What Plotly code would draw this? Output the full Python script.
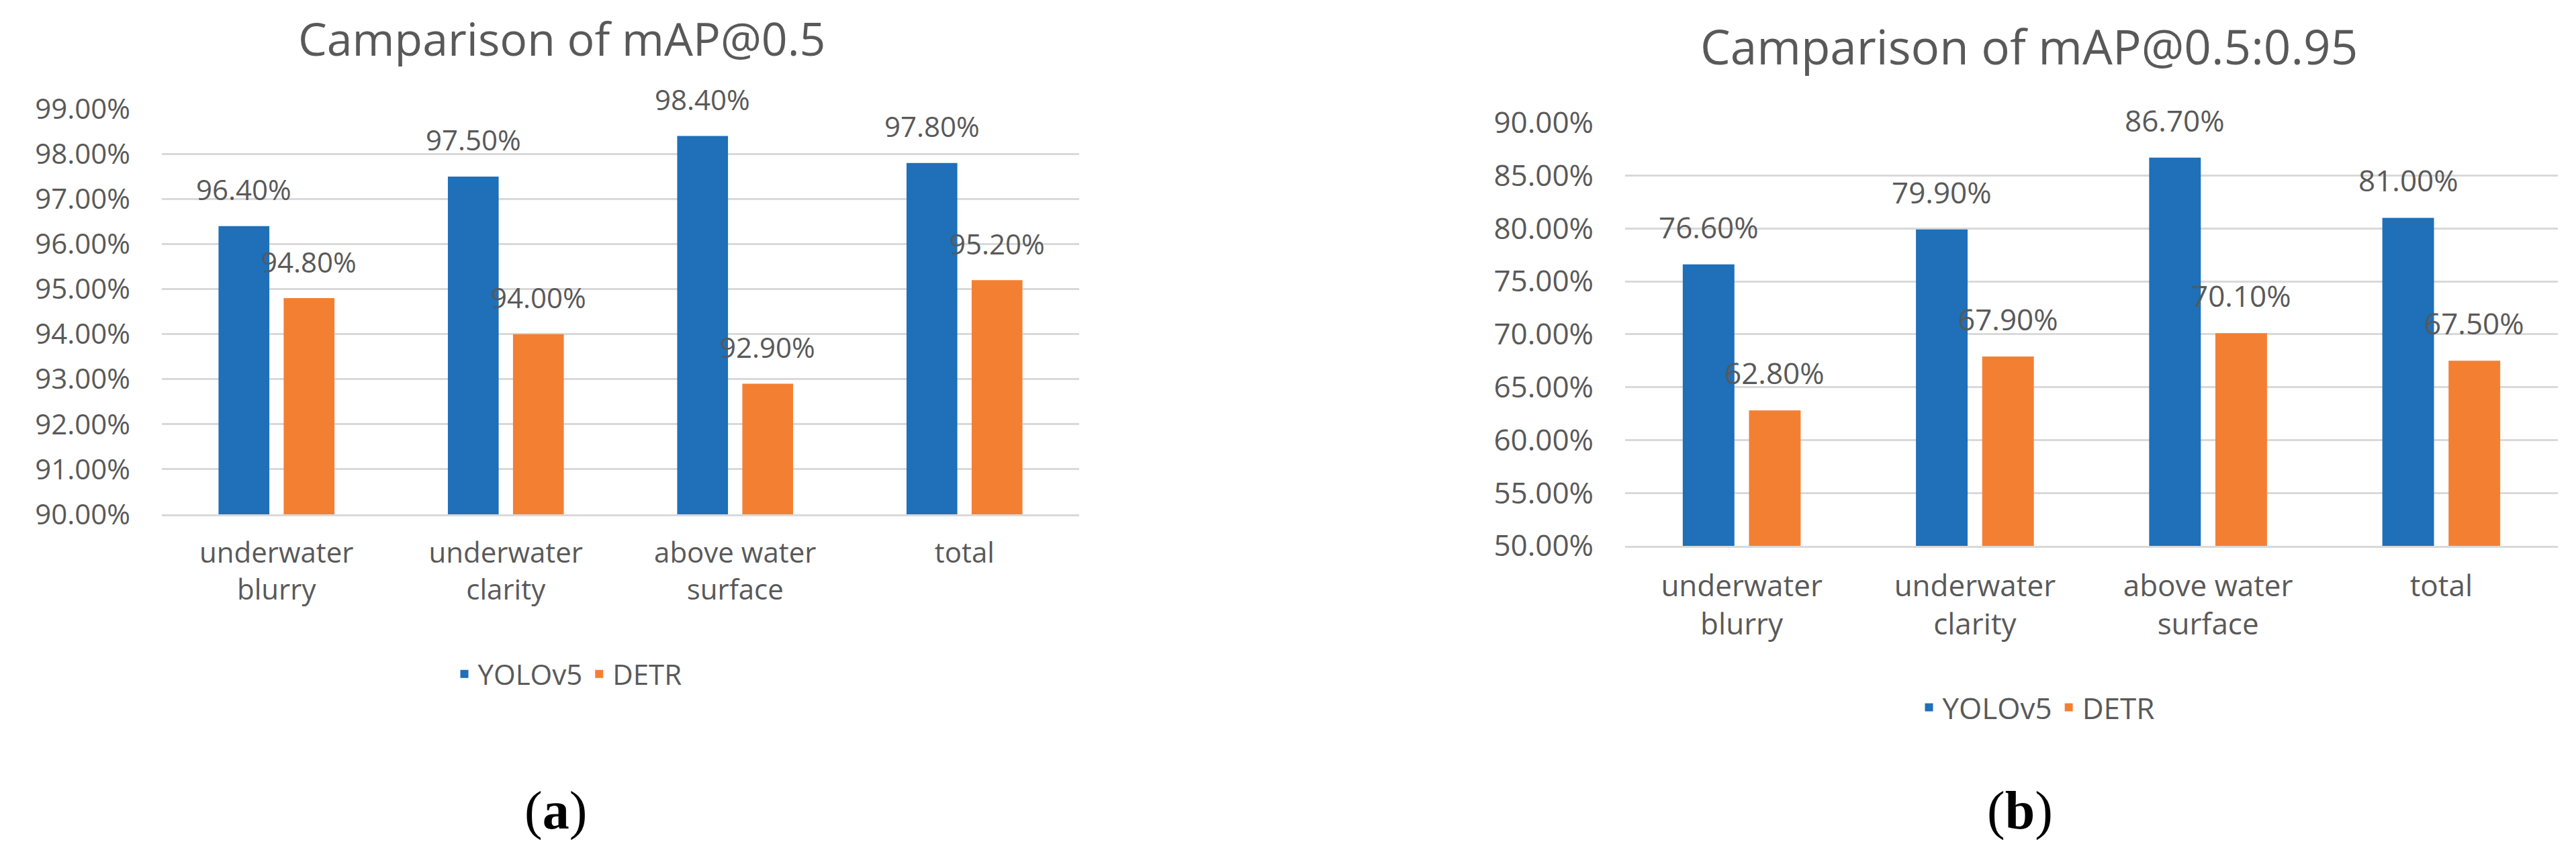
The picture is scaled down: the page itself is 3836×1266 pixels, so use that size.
import plotly.graph_objects as go

# ---------------- data ----------------
categories = ["underwater blurry", "underwater clarity", "above water surface", "total"]
tick_labels = ["underwater<br>blurry", "underwater<br>clarity", "above water<br>surface", "total"]
series_names = ["YOLOv5", "DETR"]

map50_yolov5 = [0.964, 0.975, 0.984, 0.978]
map50_detr = [0.948, 0.940, 0.929, 0.952]

map5095_yolov5 = [0.766, 0.799, 0.867, 0.810]
map5095_detr = [0.628, 0.679, 0.701, 0.675]

titles = ["Camparison of mAP@0.5", "Camparison of mAP@0.5:0.95"]
caption_letters = ["a", "b"]

# ---------------- style ----------------
W, H = 3836, 1266
COLORS = ["#1F6FB9", "#F37F33"]
TXT = "#595959"
GRID = "#D9D9D9"
FONT = "Open Sans"
BARGAP = 0.432
BARGROUPGAP = 0.22


def px_x(v):
    return v / W


def px_y(v):
    return 1 - v / H


panels = [
    dict(series=[map50_yolov5, map50_detr], xa="x", ya="y", legend="legend",
         xdom=(233, 1599), ydom=(758, 154), rng=[0.90, 0.99005], dtick=0.01,
         fs=42, title_fs=68, title_xy=(829, 49), label_shift=55,
         legend_xy=(838, 996), cap_xy=(819, 1199)),
    dict(series=[map5095_yolov5, map5095_detr], xa="x2", ya="y2", legend="legend2",
         xdom=(2412, 3801), ydom=(805, 174.5), rng=[0.50, 0.9001], dtick=0.05,
         fs=44, title_fs=71, title_xy=(3013, 60), label_shift=56,
         legend_xy=(3025, 1046), cap_xy=(3000, 1199)),
]

fig = go.Figure()
annotations = []
layout_axes = {}

for pi, p in enumerate(panels):
    for si, vals in enumerate(p["series"]):
        fig.add_trace(go.Bar(
            x=categories, y=vals, name=series_names[si],
            marker=dict(color=COLORS[si], line=dict(width=0)),
            xaxis=p["xa"], yaxis=p["ya"], legend=p["legend"],
            hovertemplate="%{x}: %{y:.2%}<extra>" + series_names[si] + "</extra>",
        ))
        # data labels, placed at each bar's own position
        off = (1 - BARGAP) / 4 * (1 if si == 1 else -1)
        for ci, v in enumerate(vals):
            annotations.append(dict(
                x=ci + off, y=v, xref=p["xa"], yref=p["ya"],
                text=f"{v:.2%}", showarrow=False,
                xanchor="center", yanchor="middle", yshift=p["label_shift"],
                font=dict(family=FONT, size=p["fs"], color=TXT),
            ))

    # title
    annotations.append(dict(
        x=px_x(p["title_xy"][0]), y=px_y(p["title_xy"][1]), xref="paper", yref="paper",
        text=titles[pi], showarrow=False, xanchor="center", yanchor="middle",
        font=dict(family=FONT, size=p["title_fs"], color=TXT),
    ))
    # caption
    annotations.append(dict(
        x=px_x(p["cap_xy"][0]), y=px_y(p["cap_xy"][1]), xref="paper", yref="paper",
        text="(<b>" + caption_letters[pi] + "</b>)", showarrow=False,
        xanchor="center", yanchor="middle",
        font=dict(family="Liberation Serif", size=80, color="#000000"),
    ))

    xkey = "xaxis" if p["xa"] == "x" else "xaxis" + p["xa"][1:]
    ykey = "yaxis" if p["ya"] == "y" else "yaxis" + p["ya"][1:]
    layout_axes[xkey] = dict(
        domain=[px_x(p["xdom"][0]), px_x(p["xdom"][1])], anchor=p["ya"],
        type="category", tickmode="array", tickvals=categories, ticktext=tick_labels,
        showline=True, linecolor=GRID, linewidth=3, showgrid=False, ticks="",
        tickfont=dict(family=FONT, size=p["fs"], color=TXT), ticklabelstandoff=19,
        fixedrange=True, automargin=False,
    )
    layout_axes[ykey] = dict(
        domain=[px_y(p["ydom"][0]), px_y(p["ydom"][1])], anchor=p["xa"],
        range=p["rng"], tick0=p["rng"][0], dtick=p["dtick"], tickformat=".2%",
        showgrid=True, gridcolor=GRID, gridwidth=3, zeroline=False, showline=False,
        ticks="", tickfont=dict(family=FONT, size=p["fs"], color=TXT),
        ticklabelstandoff=46, fixedrange=True, automargin=False,
    )
    layout_axes[p["legend"]] = dict(
        orientation="h", x=px_x(p["legend_xy"][0]), y=px_y(p["legend_xy"][1]),
        xanchor="center", yanchor="middle", bgcolor="rgba(0,0,0,0)",
        font=dict(family=FONT, size=p["fs"], color=TXT), itemclick=False, itemdoubleclick=False,
    )

fig.update_layout(
    width=W, height=H, margin=dict(l=0, r=0, t=0, b=0, autoexpand=False),
    paper_bgcolor="white", plot_bgcolor="white",
    barmode="group", bargap=BARGAP, bargroupgap=BARGROUPGAP,
    font=dict(family=FONT, color=TXT),
    annotations=annotations,
    **layout_axes,
)

fig.write_html("out.html")
